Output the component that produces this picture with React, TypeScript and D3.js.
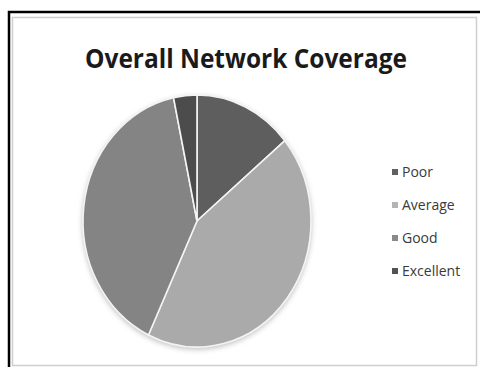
import React from "react";
import * as d3 from "d3";

const categories = ["Poor", "Average", "Good", "Excellent"];
const values = [14, 43, 39.7, 3.3];
const colors = ["#5e5e5e", "#aaaaaa", "#848484", "#4c4c4c"];
const legendColors = ["#606060", "#b4b4b4", "#8a8a8a", "#525252"];
const title = "Overall Network Coverage";

export default function App() {
  const W = 480, H = 367;
  const cx = 197, cy = 221, rx = 114, ry = 126;
  const pie = d3.pie<number>().sort(null).value((d) => d).startAngle(0).endAngle(2 * Math.PI);
  const arcs = pie(values);
  const arc = d3.arc<d3.PieArcDatum<number>>().innerRadius(0).outerRadius(rx);
  const legendY = d3.scalePoint<string>().domain(categories).range([172, 271]);

  return (
    <svg width={W} height={H} style={{ position: "absolute", left: 0, top: 0 }}>
      <defs>
        <filter id="sh" x="-20%" y="-20%" width="140%" height="140%">
          <feGaussianBlur stdDeviation="2.5" />
        </filter>
      </defs>
      <rect x={0} y={0} width={W} height={H} fill="#ffffff" />
      <rect x={9} y={12} width={W + 10} height={H + 10} fill="#ffffff" stroke="#000" strokeWidth={2.5} />
      <rect x={12.5} y={17.5} width={464} height={348} fill="none" stroke="#cfcfcf" strokeWidth={1.5} />
      <text
        x={246}
        y={68}
        textAnchor="middle"
        fontFamily="'Open Sans', 'Noto Sans', sans-serif"
        fontWeight={700}
        fontSize={27}
        textLength={322}
        lengthAdjust="spacingAndGlyphs"
        fill="#1a1a1a"
      >
        {title}
      </text>
      <ellipse cx={cx} cy={cy + 2} rx={rx + 1} ry={ry + 1} fill="#c8c8c8" filter="url(#sh)" />
      <g transform={`translate(${cx},${cy}) scale(1,${ry / rx})`}>
        {arcs.map((a, i) => (
          <path
            key={categories[i]}
            d={arc(a) || ""}
            fill={colors[i]}
            stroke="#f4f4f4"
            strokeWidth={1.6}
            vectorEffect="non-scaling-stroke"
          />
        ))}
      </g>
      {categories.map((c, i) => (
        <g key={c} transform={`translate(392,${legendY(c)})`}>
          <rect x={0} y={-3} width={6} height={6} fill={legendColors[i]} />
          <text
            x={10}
            y={5}
            fontFamily="'Open Sans', 'Noto Sans', sans-serif"
            fontSize={14}
            fill="#3a3a3a"
          >
            {c}
          </text>
        </g>
      ))}
    </svg>
  );
}
